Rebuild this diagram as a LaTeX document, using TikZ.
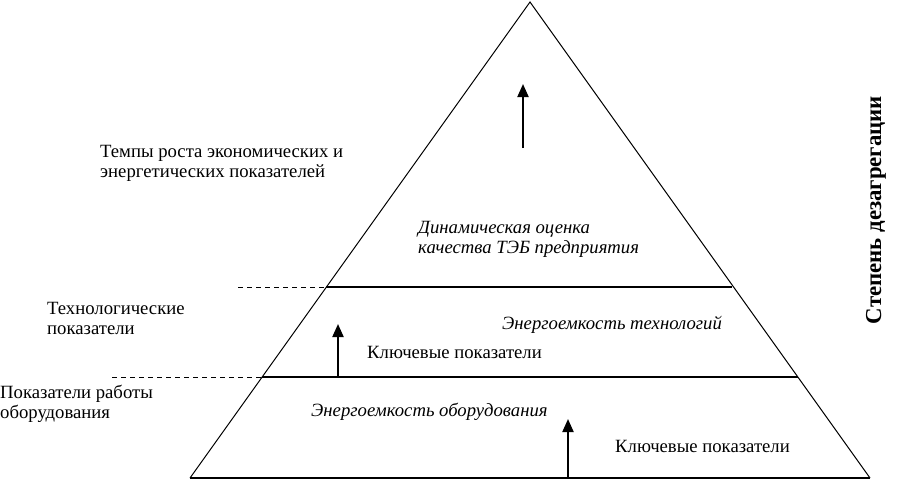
\documentclass[tikz,border=0pt]{standalone}
\usepackage{fontspec}
\setmainfont{Liberation Serif}
\usetikzlibrary{arrows.meta}
\begin{document}
\begin{tikzpicture}[x=1pt,y=-1pt,
  edge/.style={line width=1pt},
  baseline/.style={line width=2pt},
  level/.style={line width=1.1pt},
  guide/.style={line width=1pt,dash pattern=on 5pt off 4pt},
  uparrow/.style={line width=2pt,-{Triangle[width=11pt,length=13pt]}},
  lbl/.style={anchor=base west,inner sep=0pt,align=left,font=\fontsize{18.7}{20}\selectfont},
  ital/.style={lbl,font=\fontsize{18.7}{20}\selectfont\itshape}]
\useasboundingbox (0,0) rectangle (912,480);
\coordinate (apex) at (530,2);
\coordinate (bl) at (190,478);
\coordinate (br) at (870,478);
\draw[edge] (bl) -- (apex) -- (br);
\draw[baseline] (bl) -- (br);
% level lines
\coordinate (u1) at (326,287);
\coordinate (u2) at (732,287);
\coordinate (ud) at (238,287);
\coordinate (l1) at (262,377);
\coordinate (l2) at (798,377);
\coordinate (ld) at (112,377);
\draw[level] (u1) -- (u2);
\draw[level] (l1) -- (l2);
\draw[guide] (ud) -- (u1);
\draw[guide] (ld) -- (l1);
% arrows
\coordinate (a1s) at (523,148);
\coordinate (a1e) at (523,84);
\coordinate (a2s) at (338,377);
\coordinate (a2e) at (338,324);
\coordinate (a3s) at (568,478);
\coordinate (a3e) at (568,419);
\draw[uparrow] (a1s) -- (a1e);
\draw[uparrow] (a2s) -- (a2e);
\draw[uparrow] (a3s) -- (a3e);
% labels (base = baseline of last line)
\node[lbl] (t1) at (100,177) {Темпы роста экономических и\\энергетических показателей};
\node[lbl] (t2) at (47,334) {Технологические\\показатели};
\node[lbl] (t3) at (0,418) {Показатели работы\\оборудования};
\node[ital] (i1) at (418,253) {Динамическая оценка\\качества ТЭБ предприятия};
\node[ital] (i2) at (502,329) {Энергоемкость технологий};
\node[ital] (i3) at (311,416) {Энергоемкость оборудования};
\node[lbl] (k1) at (367,358) {Ключевые показатели};
\node[lbl] (k2) at (615,452) {Ключевые показатели};
\node[font=\fontsize{22.8}{26}\selectfont\bfseries,rotate=90,inner sep=0pt] (deg) at (876,210) {Степень дезагрегации};
\end{tikzpicture}
\end{document}
